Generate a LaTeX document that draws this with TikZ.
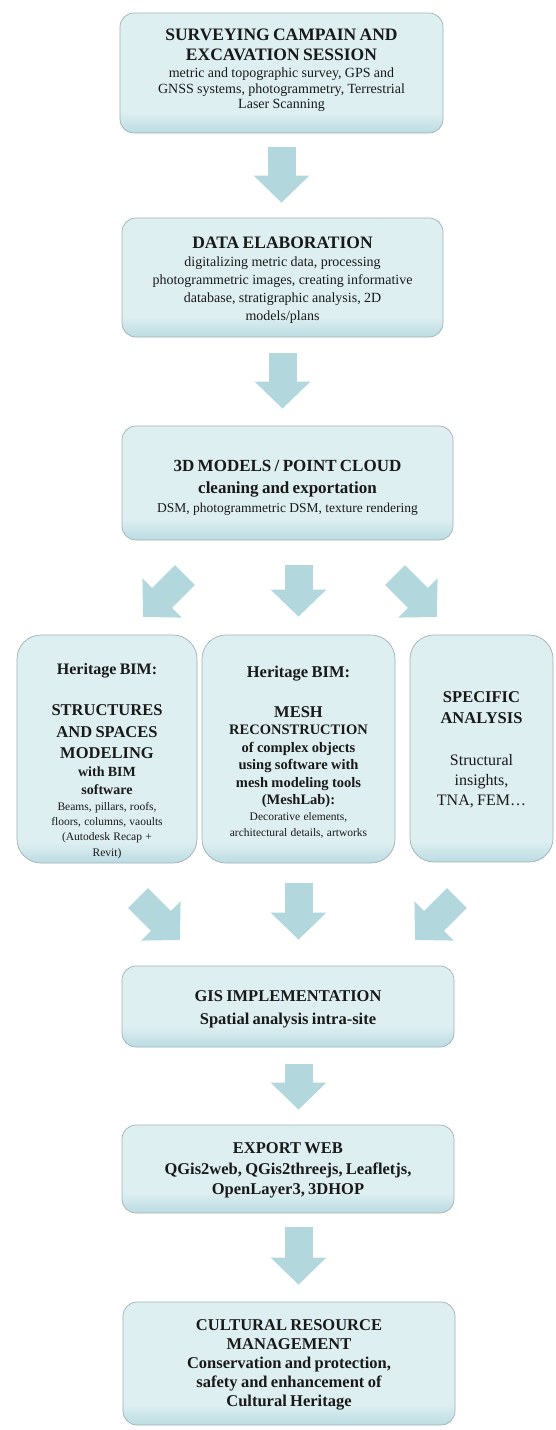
\documentclass[tikz,border=0pt]{standalone}
\usepackage{fontspec}
\setmainfont{Liberation Serif}
\usetikzlibrary{arrows.meta,calc}
\definecolor{boxfill}{RGB}{222,239,241}
\definecolor{boxdark}{RGB}{188,221,227}
\definecolor{boxline}{RGB}{160,176,180}
\definecolor{arrowc}{RGB}{178,216,222}
\definecolor{txtc}{RGB}{25,25,25}
\newcommand{\fz}[2]{\fontsize{#1}{#2}\selectfont}
\tikzset{
  panel/.style={draw=boxline, line width=0.7pt, fill=boxfill, rounded corners=#1, inner sep=0pt,
    path picture={
      \foreach \i [evaluate=\i as \p using \i*100/20] in {0,...,19}
        \fill[sharp corners, boxfill!\p!boxdark]
          ([yshift=\i pt-0.1pt]path picture bounding box.south west) rectangle
          ([yshift=\i pt+1.1pt]path picture bounding box.south east);}},
  panel/.default=14pt,
  txtnode/.style={text=txtc, align=center, inner sep=0pt, text width=#1},
  bigarrow/.style={draw=arrowc, line width=28pt, -{Triangle[width=54pt,length=27pt]}},
}
\begin{document}
\begin{tikzpicture}[x=1pt,y=-1pt]
\useasboundingbox (0,0) rectangle (555,1430);
% boxes
\node[panel, minimum width=323pt, minimum height=120pt] (b1) at (281.5,73) {};
\node[panel, minimum width=321pt, minimum height=119pt] (b2) at (282.5,277.5) {};
\node[panel, minimum width=331pt, minimum height=114pt] (b3) at (287.5,483) {};
\node[panel=24pt, minimum width=180pt, minimum height=228pt] (lb) at (107,749) {};
\node[panel=24pt, minimum width=193pt, minimum height=228pt] (mb) at (298.5,749) {};
\node[panel=24pt, minimum width=143pt, minimum height=227pt] (rb) at (481.5,748.5) {};
\node[panel, minimum width=332pt, minimum height=81pt] (gis) at (288,1006.5) {};
\node[panel, minimum width=332pt, minimum height=88pt] (exp) at (288,1169) {};
\node[panel, minimum width=332pt, minimum height=123pt] (crm) at (289,1363.5) {};
% texts
\node[txtnode=320pt] (t1) at (281.5,70) {%
  {\fz{17.5}{20}\bfseries SURVEYING CAMPAIN AND\\EXCAVATION SESSION\par}
  \vspace{2pt}
  {\fz{14}{15.5}metric and topographic survey, GPS and\\GNSS systems, photogrammetry, Terrestrial\\Laser Scanning\par}};
\node[txtnode=320pt] (t2) at (282.5,280.5) {%
  {\fz{17.5}{20}\bfseries DATA ELABORATION\par}
  {\fz{14}{18}digitalizing metric data, processing\\photogrammetric images, creating informative\\database, stratigraphic analysis, 2D\\models/plans\par}};
\node[txtnode=330pt] (t3) at (287.5,488) {%
  {\fz{17}{22}\bfseries 3D MODELS / POINT CLOUD\\cleaning and exportation\par}
  {\fz{13.5}{19}DSM, photogrammetric DSM, texture rendering\par}};
\node[txtnode=178pt] (tl) at (107,761) {%
  {\fz{16}{20}\bfseries Heritage BIM:\par}
  \vspace{20pt}
  {\fz{16.5}{21.5}\bfseries STRUCTURES\\AND SPACES\\MODELING\par}
  {\fz{14}{18}\bfseries with BIM\\software\par}
  {\fz{11.5}{15.3}Beams, pillars, roofs,\\floors, columns, vaoults\\(Autodesk Recap +\\Revit)\par}};
\node[txtnode=192pt] (tm) at (298.5,752) {%
  {\fz{16.5}{20}\bfseries Heritage BIM:\par}
  \vspace{20pt}
  {\fz{16.5}{20}\bfseries MESH\par}
  {\fz{14.5}{17.5}\bfseries RECONSTRUCTION\\of complex objects\\using software with\\mesh modeling tools\\(MeshLab):\par}
  {\fz{11.5}{16}Decorative elements,\\architectural details, artworks\par}};
\node[txtnode=140pt] (tr) at (481.5,749.5) {%
  {\fz{16.5}{21}\bfseries SPECIFIC\\ANALYSIS\par}
  \vspace{22pt}
  {\fz{16}{20}Structural\\insights,\\TNA, FEM\ldots\par}};
\node[txtnode=330pt] (tg) at (288,1009.5) {%
  {\fz{16.5}{23}\bfseries GIS IMPLEMENTATION\\Spatial analysis intra-site\par}};
\node[txtnode=330pt] (te) at (288,1170.5) {%
  {\fz{16.5}{20.5}\bfseries EXPORT WEB\\QGis2web, QGis2threejs, Leafletjs,\\OpenLayer3, 3DHOP\par}};
\node[txtnode=330pt] (tc) at (289,1365) {%
  {\fz{16.5}{19}\bfseries CULTURAL RESOURCE\\MANAGEMENT\\Conservation and protection,\\safety and enhancement of\\Cultural Heritage\par}};
% diagonal arrow end points
\coordinate (dl1) at (185,575); \coordinate (dl2) at (143,617);
\coordinate (dr1) at (395,575); \coordinate (dr2) at (437,617);
\coordinate (ul1) at (138,898); \coordinate (ul2) at (180,940);
\coordinate (ur1) at (457,898); \coordinate (ur2) at (415,940);
% arrows
\draw[bigarrow, shorten <=14pt, shorten >=15pt] (b1.south) -- (b1.south |- b2.north);
\draw[bigarrow, shorten <=16pt, shorten >=17pt] (b2.south) -- (b2.south |- b3.north);
\draw[bigarrow, shorten <=25pt, shorten >=18pt] (mb.north |- b3.south) -- (mb.north);
\draw[bigarrow] (dl1) -- (dl2);
\draw[bigarrow] (dr1) -- (dr2);
\draw[bigarrow, shorten <=20pt, shorten >=26pt] (mb.south) -- (mb.south |- gis.north);
\draw[bigarrow] (ul1) -- (ul2);
\draw[bigarrow] (ur1) -- (ur2);
\draw[bigarrow, shorten <=17pt, shorten >=15pt] (gis.south -| mb.south) -- (exp.north -| mb.south);
\draw[bigarrow, shorten <=14pt, shorten >=17pt] (exp.south -| mb.south) -- (crm.north -| mb.south);
\end{tikzpicture}
\end{document}
